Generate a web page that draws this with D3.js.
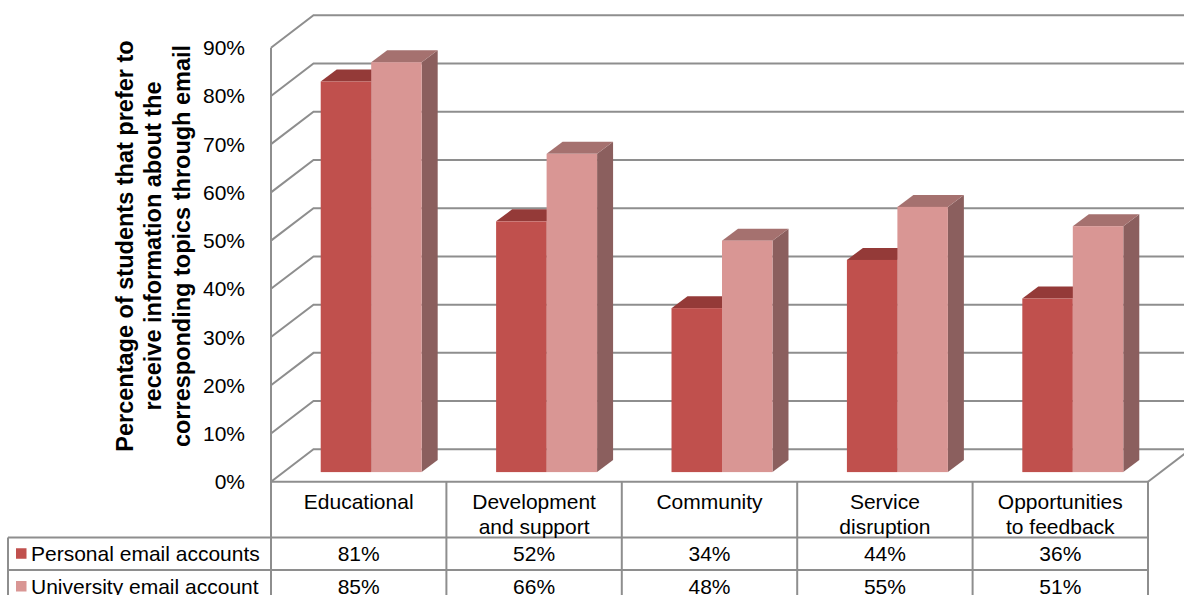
<!DOCTYPE html>
<html>
<head>
<meta charset="utf-8">
<script src="https://cdn.jsdelivr.net/npm/d3@7"></script>
<style>
  html, body { margin: 0; padding: 0; background: #fff; }
  svg { display: block; font-family: "Liberation Sans", Arial, sans-serif; }
</style>
</head>
<body>
<svg id="chart" width="1184" height="595"></svg>
<script>
// Topics asked about (line breaks mark the wrapped table headers)
const categories = ["Educational", "Development\nand support", "Community", "Service\ndisruption", "Opportunities\nto feedback"];
const seriesNames = ["Personal email accounts", "University email account"];
const personal = [0.81, 0.52, 0.34, 0.44, 0.36];
const university = [0.85, 0.66, 0.48, 0.55, 0.51];
const yTicks = [0, 0.1, 0.2, 0.3, 0.4, 0.5, 0.6, 0.7, 0.8, 0.9];
const titleLines = ["Percentage of students that prefer to", "receive information about the", "corresponding topics through email"];

const seriesValues = [personal, university];
const colors = [
  { front: "#c0504d", top: "#943a38", side: "#8a3533" },
  { front: "#d99694", top: "#a5716f", side: "#8b5f5e" }
];

const svg = d3.select("#chart");
const W = 1184, H = 595;
svg.append("rect").attr("width", W).attr("height", H).attr("fill", "#fff");

// Oblique 3D frame: front plane of the floor and the depth vector of the walls
const plotLeft = 271, plotRight = 1148;
const wallDepth = { dx: 42.5, dy: -32.4 };
const barShift = { dx: 12.5, dy: -9.6 };   // bar front face sits part-way into the depth
const barDepth = { dx: 16, dy: -12 };
const gridColor = "#8e8e8e";
const fmt = d3.format(".0%");

const y = d3.scaleLinear().domain([0, 0.9]).range([481.7, 47.7]);
const x = d3.scaleBand().domain(categories).range([plotLeft, plotRight]);

// Gridlines: left wall diagonals plus back wall horizontals
const grid = svg.append("g").attr("stroke", gridColor).attr("stroke-width", 2).attr("fill", "none");
yTicks.forEach(t => {
  const yf = y(t), yb = y(t) + wallDepth.dy, xb = plotLeft + wallDepth.dx;
  grid.append("path").attr("d", `M${plotLeft},${yf}L${xb},${yb}L${W + 20},${yb}`);
});
// Left wall front edge (continues down as the table's first divider)
grid.append("line").attr("x1", plotLeft).attr("x2", plotLeft).attr("y1", y(0.9)).attr("y2", H + 10);
// Floor right edge
grid.append("line").attr("x1", plotRight).attr("y1", y(0))
  .attr("x2", plotRight + wallDepth.dx).attr("y2", y(0) + wallDepth.dy);

// Value axis labels
svg.append("g").selectAll("text").data(yTicks).join("text")
  .attr("x", 245).attr("y", d => y(d) + 2)
  .attr("text-anchor", "end").attr("dominant-baseline", "middle")
  .attr("font-size", 21).attr("fill", "#000")
  .text(d => fmt(d));

// Axis title, three rotated lines
const title = svg.append("text")
  .attr("transform", "translate(153,246) rotate(-90)")
  .attr("text-anchor", "middle").attr("font-weight", "bold")
  .attr("font-size", 23.5).attr("fill", "#000");
titleLines.forEach((line, i) => {
  title.append("tspan").attr("x", 0).attr("y", (i - 1) * 28.5 + 8).text(line);
});

// Bars: within each category slot a pair of bars with a wide gap around them
const bw = x.bandwidth();
const barW = bw / 3.474;
const gap = bw - 2 * barW;
const inner = d3.scaleBand().domain(seriesNames).range([gap / 2, bw - gap / 2]);

const bars = svg.append("g");
categories.forEach((c, i) => {
  seriesNames.forEach((s, k) => {
    const v = seriesValues[k][i];
    const xl = x(c) + inner(s) + barShift.dx;
    const xr = xl + inner.bandwidth();
    const yt = y(v) + barShift.dy;
    const yb = y(0) + barShift.dy;
    const col = colors[k];
    const g = bars.append("g");
    // side face
    g.append("path").attr("fill", col.side)
      .attr("d", `M${xr},${yt}L${xr + barDepth.dx},${yt + barDepth.dy}L${xr + barDepth.dx},${yb + barDepth.dy}L${xr},${yb}Z`);
    // top face
    g.append("path").attr("fill", col.top)
      .attr("d", `M${xl},${yt}L${xr},${yt}L${xr + barDepth.dx},${yt + barDepth.dy}L${xl + barDepth.dx},${yt + barDepth.dy}Z`);
    // front face
    g.append("rect").attr("x", xl).attr("y", yt).attr("width", xr - xl).attr("height", yb - yt)
      .attr("fill", col.front);
  });
});

// Data table below the plot
const rowTop = [y(0), 537.5, 570, 603];
const table = svg.append("g").attr("stroke", gridColor).attr("stroke-width", 2).attr("fill", "none");
table.append("line").attr("x1", plotLeft).attr("x2", plotRight).attr("y1", rowTop[0]).attr("y2", rowTop[0]);
[rowTop[1], rowTop[2], rowTop[3]].forEach(yy => {
  table.append("line").attr("x1", 8).attr("x2", plotRight).attr("y1", yy).attr("y2", yy);
});
table.append("line").attr("x1", 8).attr("x2", 8).attr("y1", rowTop[1]).attr("y2", H + 10);
categories.forEach(c => {
  const xe = x(c) + bw;
  table.append("line").attr("x1", xe).attr("x2", xe).attr("y1", rowTop[0]).attr("y2", H + 10);
});

// Category header cells
const headers = svg.append("g").attr("font-size", 21).attr("fill", "#000").attr("text-anchor", "middle");
categories.forEach(c => {
  const t = headers.append("text").attr("x", x(c) + bw / 2);
  c.split("\n").forEach((line, j) => {
    t.append("tspan").attr("x", x(c) + bw / 2).attr("y", 509 + j * 25).text(line);
  });
});

// Value rows with legend keys
seriesNames.forEach((s, k) => {
  const yc = (rowTop[k + 1] + rowTop[k + 2]) / 2;
  svg.append("rect").attr("x", 16).attr("y", yc - 5.5).attr("width", 10.5).attr("height", 10.5)
    .attr("fill", colors[k].front);
  svg.append("text").attr("x", 31).attr("y", yc).attr("dy", "0.36em")
    .attr("font-size", 21).attr("fill", "#000").text(s);
  svg.append("g").selectAll("text").data(seriesValues[k]).join("text")
    .attr("x", (d, i) => x(categories[i]) + bw / 2).attr("y", yc).attr("dy", "0.36em")
    .attr("text-anchor", "middle").attr("font-size", 21).attr("fill", "#000")
    .text(d => fmt(d));
});
</script>
</body>
</html>
